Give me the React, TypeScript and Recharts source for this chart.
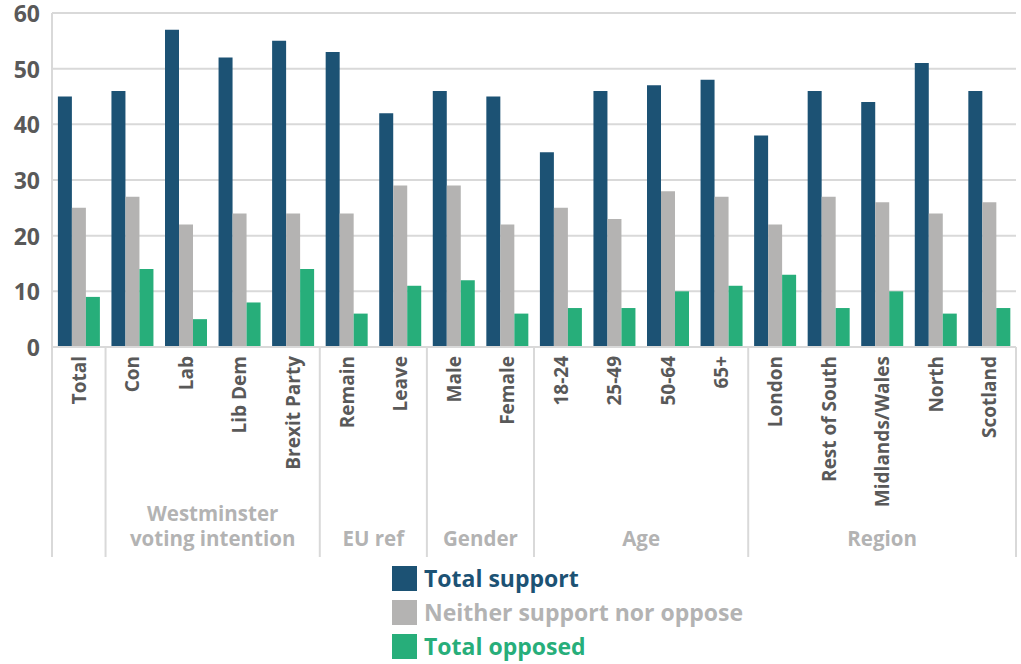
import { BarChart, Bar, XAxis, YAxis, CartesianGrid } from 'recharts';

const categories = [
  'Total', 'Con', 'Lab', 'Lib Dem', 'Brexit Party', 'Remain', 'Leave', 'Male', 'Female',
  '18-24', '25-49', '50-64', '65+', 'London', 'Rest of South', 'Midlands/Wales', 'North', 'Scotland',
];
const totalSupport = [45, 46, 57, 52, 55, 53, 42, 46, 45, 35, 46, 47, 48, 38, 46, 44, 51, 46];
const neitherSupport = [25, 27, 22, 24, 24, 24, 29, 29, 22, 25, 23, 28, 27, 22, 27, 26, 24, 26];
const totalOpposed = [9, 14, 5, 8, 14, 6, 11, 12, 6, 7, 7, 10, 11, 13, 7, 10, 6, 7];
const yTicks = [0, 10, 20, 30, 40, 50, 60];

const groupLabels = [[], ['Westminster', 'voting intention'], ['EU ref'], ['Gender'], ['Age'], ['Region']];
const groupSizes = [1, 4, 2, 2, 4, 5];

const series = [
  { key: 'support', name: 'Total support', color: '#1c5274' },
  { key: 'neither', name: 'Neither support nor oppose', color: '#b4b3b2' },
  { key: 'opposed', name: 'Total opposed', color: '#27ae7a' },
];

const data = categories.map((name, i) => ({
  name,
  support: totalSupport[i],
  neither: neitherSupport[i],
  opposed: totalOpposed[i],
}));

const FONT = '"Open Sans", "Noto Sans", sans-serif';
const PLOT_LEFT = 52;
const PLOT_RIGHT = 1016;
const BAND = (PLOT_RIGHT - PLOT_LEFT) / categories.length;

// first index of each group
const groupStarts = groupSizes.map((_, g) => groupSizes.slice(0, g).reduce((a, b) => a + b, 0));

function CategoryTick(props: any) {
  const { x, y, payload } = props;
  const i = categories.indexOf(payload.value);
  const g = groupStarts.indexOf(i);
  const top = y - 8;
  return (
    <g>
      <text
        transform={`translate(${x},${y + 1}) rotate(-90)`}
        textAnchor="end"
        dominantBaseline="central"
        fontFamily={FONT}
        fontWeight={700}
        fontSize={19}
        fill="#595959"
      >
        {payload.value}
      </text>
      {g >= 0 && (
        <line x1={x - BAND / 2} x2={x - BAND / 2} y1={top} y2={top + 210} stroke="#d9d9d9" strokeWidth={2} />
      )}
      {g >= 0 &&
        groupLabels[g].map((line, k) => (
          <text
            key={k}
            x={x - BAND / 2 + (groupSizes[g] * BAND) / 2}
            y={top + 199 - (groupLabels[g].length - 1 - k) * 25}
            textAnchor="middle"
            fontFamily={FONT}
            fontWeight={700}
            fontSize={20.5}
            fill="#b3b3b3"
          >
            {line}
          </text>
        ))}
      {i === categories.length - 1 && (
        <line x1={x + BAND / 2} x2={x + BAND / 2} y1={top} y2={top + 210} stroke="#d9d9d9" strokeWidth={2} />
      )}
    </g>
  );
}

export default function App() {
  return (
    <div style={{ position: 'absolute', left: 0, top: 0, width: 1021, height: 664, background: '#fff' }}>
      <BarChart
        width={1021}
        height={560}
        data={data}
        margin={{ top: 13, right: 1021 - PLOT_RIGHT, left: 0, bottom: 3 }}
        barCategoryGap="11%"
        barGap={0}
      >
        <CartesianGrid vertical={false} stroke="#d9d9d9" strokeWidth={2} />
        <XAxis
          dataKey="name"
          interval={0}
          height={210}
          tickLine={false}
          axisLine={{ stroke: '#d9d9d9', strokeWidth: 2 }}
          tick={<CategoryTick />}
        />
        <YAxis
          width={PLOT_LEFT}
          domain={[0, 60]}
          ticks={yTicks}
          tickLine={false}
          axisLine={{ stroke: '#d9d9d9', strokeWidth: 2 }}
          tickMargin={6}
          tick={{ fontSize: 23, fontWeight: 700, fill: '#595959', fontFamily: FONT, dy: 1 }}
        />
        {series.map((s) => (
          <Bar key={s.key} dataKey={s.key} name={s.name} fill={s.color} isAnimationActive={false} />
        ))}
      </BarChart>

      {/* Legend */}
      <div style={{ position: 'absolute', left: 392, top: 561, fontFamily: FONT }}>
        {series.map((s) => (
          <div key={s.key} style={{ display: 'flex', alignItems: 'center', height: 34 }}>
            <div style={{ width: 25, height: 25, background: s.color, marginRight: 7 }} />
            <span style={{ color: s.key === 'neither' ? '#b3b3b3' : s.color, fontSize: 23, fontWeight: 700 }}>
              {s.name}
            </span>
          </div>
        ))}
      </div>
    </div>
  );
}
